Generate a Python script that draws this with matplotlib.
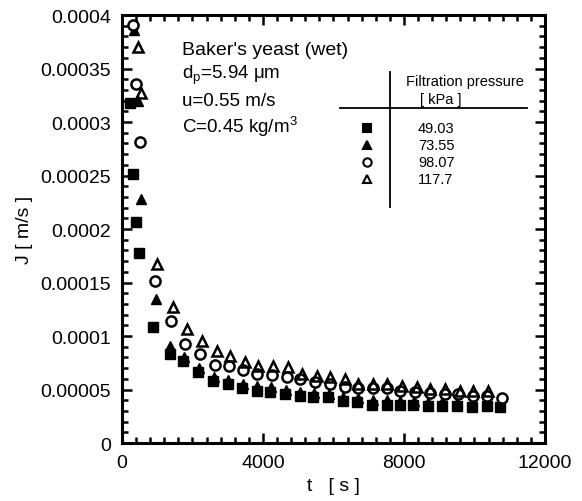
import matplotlib
matplotlib.use("Agg")
import matplotlib.pyplot as plt
from matplotlib.ticker import MultipleLocator

plt.rcParams['font.family'] = ['Liberation Sans', 'DejaVu Sans']

# 49.03 kPa (filled squares)
t_sq = [230, 310, 400, 480, 880, 1360, 1730, 2160, 2580, 3010, 3400, 3830, 4200, 4620,
        5050, 5420, 5840, 6270, 6670, 7090, 7520, 7890, 8260, 8680, 9080, 9500, 9930,
        10350, 10720]
J_sq = [3.18e-4, 2.51e-4, 2.07e-4, 1.78e-4, 1.08e-4, 8.3e-5, 7.7e-5, 6.6e-5, 5.8e-5,
        5.5e-5, 5.1e-5, 4.9e-5, 4.8e-5, 4.6e-5, 4.4e-5, 4.3e-5, 4.3e-5, 3.9e-5, 3.8e-5,
        3.6e-5, 3.6e-5, 3.6e-5, 3.6e-5, 3.5e-5, 3.5e-5, 3.5e-5, 3.4e-5, 3.5e-5, 3.4e-5]

# 73.55 kPa (filled triangles)
t_ft = [340, 450, 540, 960, 1360, 1750, 2180, 2600, 3020, 3420, 3840, 4220, 4640, 5060,
        5440, 5860, 6280, 6690, 7110, 7530, 7900, 8270, 8690, 9090, 9510, 9940, 10360]
J_ft = [3.86e-4, 3.20e-4, 2.28e-4, 1.35e-4, 9.1e-5, 8.0e-5, 7.0e-5, 6.2e-5, 5.9e-5,
        5.5e-5, 5.3e-5, 5.2e-5, 5.0e-5, 4.8e-5, 4.7e-5, 4.6e-5, 4.3e-5, 4.2e-5, 4.0e-5,
        4.0e-5, 3.95e-5, 3.9e-5, 3.8e-5, 3.8e-5, 3.7e-5, 3.6e-5, 3.7e-5]

# 98.07 kPa (open circles)
t_oc = [310, 400, 510, 940, 1390, 1790, 2210, 2640, 3040, 3430, 3830, 4260, 4680, 5050,
        5480, 5900, 6330, 6700, 7120, 7520, 7890, 8310, 8740, 9160, 9530, 9960, 10360,
        10780]
J_oc = [3.91e-4, 3.36e-4, 2.81e-4, 1.51e-4, 1.14e-4, 9.25e-5, 8.3e-5, 7.3e-5, 7.2e-5,
        6.8e-5, 6.45e-5, 6.4e-5, 6.2e-5, 6.0e-5, 5.7e-5, 5.5e-5, 5.2e-5, 5.1e-5, 5.1e-5,
        5.1e-5, 4.9e-5, 4.8e-5, 4.7e-5, 4.6e-5, 4.6e-5, 4.4e-5, 4.4e-5, 4.2e-5]

# 117.7 kPa (open triangles)
t_ot = [450, 540, 990, 1450, 1840, 2270, 2700, 3060, 3490, 3860, 4280, 4710, 5110, 5530,
        5900, 6330, 6700, 7120, 7520, 7940, 8370, 8740, 9160, 9590, 9960, 10380]
J_ot = [3.70e-4, 3.27e-4, 1.67e-4, 1.27e-4, 1.065e-4, 9.5e-5, 8.6e-5, 8.1e-5, 7.6e-5,
        7.2e-5, 7.2e-5, 7.1e-5, 6.45e-5, 6.3e-5, 6.2e-5, 6.0e-5, 5.5e-5, 5.5e-5, 5.5e-5,
        5.3e-5, 5.2e-5, 5.05e-5, 5.05e-5, 4.9e-5, 4.9e-5, 4.9e-5]

pressures = ["49.03", "73.55", "98.07", "117.7"]
x_ticks = [0, 4000, 8000, 12000]
x_ticklabels = ["0", "4000", "8000", "12000"]
y_ticks = [0, 0.00005, 0.0001, 0.00015, 0.0002, 0.00025, 0.0003, 0.00035, 0.0004]
y_ticklabels = ["0", "0.00005", "0.0001", "0.00015", "0.0002", "0.00025", "0.0003",
                "0.00035", "0.0004"]

fig = plt.figure(figsize=(5.82, 5.02), dpi=100)
ax = fig.add_axes([0.2096, 0.1155, 0.7268, 0.8525])

ms = 7.3
ax.plot(t_sq, J_sq, linestyle='none', marker='s', ms=ms, mfc='black', mec='black', zorder=3)
ax.plot(t_ft, J_ft, linestyle='none', marker='^', ms=ms, mfc='black', mec='black', zorder=3)
ax.plot(t_oc, J_oc, linestyle='none', marker='o', ms=ms, mfc='white', mec='black', mew=1.8, zorder=4)
ax.plot(t_ot, J_ot, linestyle='none', marker='^', ms=ms, mfc='none', mec='black', mew=1.8, zorder=5)

ax.set_xlim(0, 12000)
ax.set_ylim(0, 0.0004)
ax.set_xticks(x_ticks)
ax.set_xticklabels(x_ticklabels)
ax.set_yticks(y_ticks)
ax.set_yticklabels(y_ticklabels)
ax.xaxis.set_minor_locator(MultipleLocator(400))
ax.yaxis.set_minor_locator(MultipleLocator(0.00001))
ax.tick_params(which='both', direction='in', top=True, right=True, width=1.8,
               labelsize=14, colors='black')
ax.tick_params(which='major', length=7, pad=8)
ax.tick_params(which='minor', length=4)
for s in ax.spines.values():
    s.set_linewidth(2.2)

ax.set_xlabel("t   [ s ]", fontsize=14, labelpad=4)
ax.set_ylabel("J [ m/s ]", fontsize=14, labelpad=5)

# annotation text
tx = ax.transAxes
ax.text(0.143, 0.920, "Baker's yeast (wet)", transform=tx, fontsize=14, va='center')
ax.text(0.143, 0.862, r"d$_\mathregular{p}$=5.94 $\mathregular{\mu}$m", transform=tx, fontsize=13.5, va='center')
ax.text(0.143, 0.801, "u=0.55 m/s", transform=tx, fontsize=13.5, va='center')
ax.text(0.143, 0.742, r"C=0.45 kg/m$^\mathregular{3}$", transform=tx, fontsize=13.5, va='center')

# legend table
def px2ax(px, py):
    return ((px - 122) / (545 - 122), (444 - py) / (444 - 16))

x0, y0 = px2ax(390, 73)
x1, y1 = px2ax(390, 208)
ax.plot([x0, x1], [y0, y1], transform=tx, color='black', lw=1.3)
hx0, hy = px2ax(340, 109)
hx1, _ = px2ax(527, 109)
ax.plot([hx0, hx1], [hy, hy], transform=tx, color='black', lw=1.3)

fx, fy = px2ax(465, 82)
ax.text(fx, fy, "Filtration pressure", transform=tx, fontsize=10.5, ha='center', va='center')
kx, ky = px2ax(441, 100)
ax.text(kx, ky, "[ kPa ]", transform=tx, fontsize=10.5, ha='center', va='center')

markers = [dict(marker='s', mfc='black'), dict(marker='^', mfc='black'),
           dict(marker='o', mfc='white'), dict(marker='^', mfc='white')]
rows_py = [129, 146, 163, 180]
for lab, mk, py in zip(pressures, markers, rows_py):
    mx, my = px2ax(367, py)
    ax.plot([mx], [my], transform=tx, linestyle='none', ms=6, mec='black', mew=1.5, **mk)
    nx, ny = px2ax(418, py)
    ax.text(nx, ny, lab, transform=tx, fontsize=10.5, ha='left', va='center')

fig.savefig("out.png", dpi=100)
